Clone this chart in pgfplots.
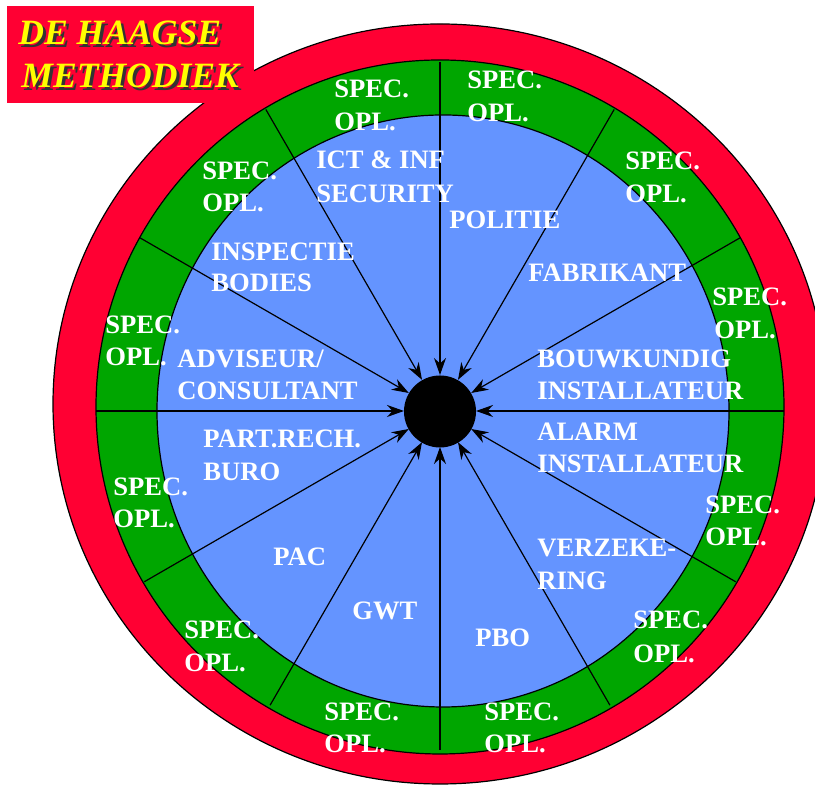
\documentclass[border=0pt]{standalone}
\usepackage{pgfplots}
\pgfplotsset{compat=1.18}
\usetikzlibrary{arrows.meta}
\usepackage{fontspec}
\setmainfont{Liberation Serif}
\definecolor{ringred}{RGB}{255,0,51}
\definecolor{ringgreen}{RGB}{0,166,0}
\definecolor{ringblue}{RGB}{100,148,255}
\definecolor{titleyellow}{RGB}{255,255,0}
\begin{document}
\begin{tikzpicture}
\begin{axis}[x=0.5pt,y=0.5pt,xmin=0,xmax=815,ymin=0,ymax=785,hide axis,clip=false]
% rings
\filldraw[fill=ringred,draw=black,line width=0.6pt] (axis cs:440,381) ellipse [x radius=387, y radius=380];
\filldraw[fill=ringgreen,draw=black,line width=0.6pt] (axis cs:440,378) ellipse [x radius=344, y radius=347];
\filldraw[fill=ringblue,draw=black,line width=0.6pt] (axis cs:443,374) ellipse [x radius=286, y radius=296];
% spokes with arrows
\pgfplotsset{spoke/.style={black,mark=none,line width=0.6pt,-{Stealth[length=8.5pt,width=6pt]}}}
\addplot[spoke] coordinates {(784,374) (476,374)};
\addplot[spoke] coordinates {(740.1,547.2) (471.2,392)};
\addplot[spoke] coordinates {(614.2,675.6) (458,405.2)};
\addplot[spoke] coordinates {(440,723) (440,410)};
\addplot[spoke] coordinates {(265.8,675.6) (422,405.2)};
\addplot[spoke] coordinates {(139.9,547.2) (408.8,392)};
\addplot[spoke] coordinates {(96,374) (404,374)};
\addplot[spoke] coordinates {(144.3,203.2) (408.8,356)};
\addplot[spoke] coordinates {(270.1,79.8) (422,342.8)};
\addplot[spoke] coordinates {(440,35) (440,338)};
\addplot[spoke] coordinates {(609.9,79.8) (458,342.8)};
\addplot[spoke] coordinates {(735.7,203.2) (471.2,356)};
% black centre
\fill[black] (axis cs:440,373.5) circle [radius=36];
% labels
\tikzset{lab/.style={anchor=base west,inner sep=0pt,text=white,font=\bfseries\fontsize{13.3}{15}\selectfont}}
% green ring
\node[lab] at (axis cs:334,687) {SPEC.}; \node[lab] at (axis cs:334,654) {OPL.};
\node[lab] at (axis cs:467,696) {SPEC.}; \node[lab] at (axis cs:467,663) {OPL.};
\node[lab] at (axis cs:625,615) {SPEC.}; \node[lab] at (axis cs:625,582) {OPL.};
\node[lab] at (axis cs:712,479) {SPEC.}; \node[lab] at (axis cs:714,446) {OPL.};
\node[lab] at (axis cs:705,271) {SPEC.}; \node[lab] at (axis cs:705,239) {OPL.};
\node[lab] at (axis cs:633,156) {SPEC.}; \node[lab] at (axis cs:633,122) {OPL.};
\node[lab] at (axis cs:484,64) {SPEC.}; \node[lab] at (axis cs:484,32) {OPL.};
\node[lab] at (axis cs:324,64) {SPEC.}; \node[lab] at (axis cs:324,32) {OPL.};
\node[lab] at (axis cs:184,146) {SPEC.}; \node[lab] at (axis cs:184,113) {OPL.};
\node[lab] at (axis cs:113,289) {SPEC.}; \node[lab] at (axis cs:113,257) {OPL.};
\node[lab] at (axis cs:105,451) {SPEC.}; \node[lab] at (axis cs:105,419) {OPL.};
\node[lab] at (axis cs:202,605) {SPEC.}; \node[lab] at (axis cs:202,573) {OPL.};
% blue area
\node[lab] at (axis cs:316,616) {ICT \& INF}; \node[lab] at (axis cs:316,582) {SECURITY};
\node[lab] at (axis cs:449,556) {POLITIE};
\node[lab] at (axis cs:528,503) {FABRIKANT};
\node[lab] at (axis cs:211,524) {INSPECTIE}; \node[lab] at (axis cs:211,493) {BODIES};
\node[lab] at (axis cs:537,417) {BOUWKUNDIG}; \node[lab] at (axis cs:537,385) {INSTALLATEUR};
\node[lab] at (axis cs:177,417) {ADVISEUR/}; \node[lab] at (axis cs:177,385) {CONSULTANT};
\node[lab] at (axis cs:203,337) {PART.RECH.}; \node[lab] at (axis cs:203,304) {BURO};
\node[lab] at (axis cs:537,344) {ALARM}; \node[lab] at (axis cs:537,312) {INSTALLATEUR};
\node[lab] at (axis cs:273,219) {PAC};
\node[lab] at (axis cs:537,228) {VERZEKE-}; \node[lab] at (axis cs:537,195) {RING};
\node[lab] at (axis cs:352,165) {GWT};
\node[lab] at (axis cs:475,138) {PBO};
% title box
\fill[ringred] (axis cs:7,682) rectangle (axis cs:254,779);
\tikzset{ttl/.style={anchor=base west,inner sep=0pt,font=\bfseries\itshape\fontsize{17.8}{20}\selectfont}}
\node[ttl,text=black!80] at (axis cs:21,737) {DE HAAGSE};
\node[ttl,text=titleyellow] at (axis cs:18,740) {DE HAAGSE};
\node[ttl,text=black!80] at (axis cs:24,694) {METHODIEK};
\node[ttl,text=titleyellow] at (axis cs:21,697) {METHODIEK};
\end{axis}
\pgfresetboundingbox
\useasboundingbox (current axis.south west) rectangle (current axis.north east);
\end{tikzpicture}
\end{document}
